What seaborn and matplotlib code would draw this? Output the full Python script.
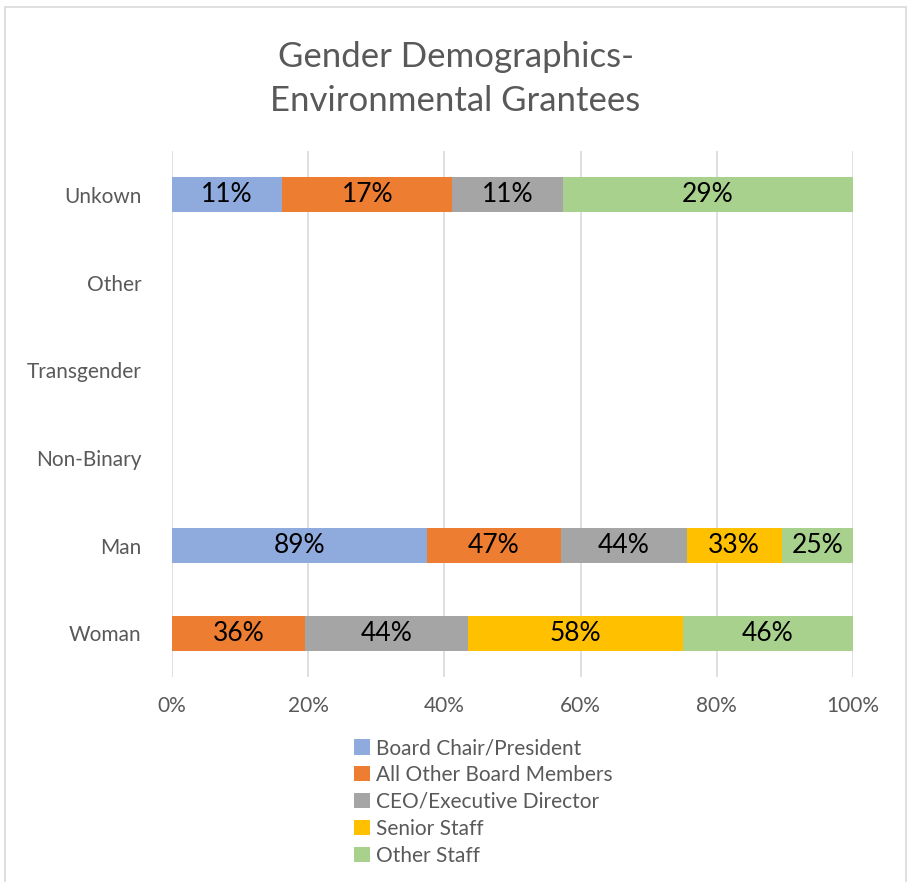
import numpy as np
import pandas as pd
import seaborn as sns
import matplotlib.pyplot as plt
from matplotlib.patches import Rectangle, Patch

categories = ['Unkown', 'Other', 'Transgender', 'Non-Binary', 'Man', 'Woman']
roles = ['Board Chair/President', 'All Other Board Members',
         'CEO/Executive Director', 'Senior Staff', 'Other Staff']
board_chair = [11, 0, 0, 0, 89, 0]
other_board = [17, 0, 0, 0, 47, 36]
ceo = [11, 0, 0, 0, 44, 44]
senior_staff = [0, 0, 0, 0, 33, 58]
other_staff = [29, 0, 0, 0, 25, 46]
colors = ['#8FAADC', '#ED7D31', '#A5A5A5', '#FFC000', '#A9D18E']

vals = np.array([board_chair, other_board, ceo, senior_staff, other_staff], dtype=float)
totals = vals.sum(axis=0)
share = np.divide(vals, totals, out=np.zeros_like(vals), where=totals > 0)
cum = share.cumsum(axis=0)

sns.set_theme(style='white')
plt.rcParams['font.family'] = ['Lato', 'DejaVu Sans']
grey = '#595959'

fig = plt.figure(figsize=(9.11, 8.82), dpi=100)
ax = fig.add_axes([0.1888, 0.2324, 0.7476, 0.5964])

# stacked: draw cumulative ends from last series to first
for k in range(len(roles) - 1, -1, -1):
    df = pd.DataFrame({'cat': categories, 'end': cum[k]})
    sns.barplot(data=df, x='end', y='cat', orient='h', color=colors[k],
                saturation=1, width=0.4, linewidth=0, ax=ax)

for k in range(len(roles)):
    for i in range(len(categories)):
        if vals[k, i] > 0:
            start = cum[k, i] - share[k, i]
            ax.text(start + share[k, i] / 2, i, f'{int(vals[k, i])}%',
                    ha='center', va='center', fontsize=19, color='black')

ax.set_xlim(0, 1)
ax.set_ylim(len(categories) - 0.5, -0.5)
ax.set_xticks(np.arange(0, 1.01, 0.2))
ax.set_xticklabels([f'{int(t * 100)}%' for t in np.arange(0, 1.01, 0.2)])
ax.xaxis.grid(True, color='#D9D9D9', linewidth=1.2)
ax.set_axisbelow(True)
ax.set_xlabel('')
ax.set_ylabel('')
for s in ax.spines.values():
    s.set_visible(False)
ax.tick_params(axis='both', length=0, labelsize=15, labelcolor=grey)
ax.tick_params(axis='x', pad=14)
ax.tick_params(axis='y', pad=22)

fig.text(0.5, 0.935, 'Gender Demographics-', ha='center', va='center',
         fontsize=25, color=grey)
fig.text(0.5, 0.886, 'Environmental Grantees', ha='center', va='center',
         fontsize=25, color=grey)

handles = [Patch(facecolor=c, edgecolor='none') for c in colors]
fig.legend(handles, roles, loc='upper left', bbox_to_anchor=(0.389, 0.163),
           frameon=False, fontsize=15, labelcolor=grey, handlelength=0.75,
           handleheight=0.75, handletextpad=0.3, labelspacing=0.33,
           borderaxespad=0, borderpad=0)

fig.patches.append(Rectangle((0.006, -0.01), 0.988, 1.002, transform=fig.transFigure,
                             fill=False, edgecolor='#D9D9D9', linewidth=1.2))

fig.savefig('out.png', dpi=100)
